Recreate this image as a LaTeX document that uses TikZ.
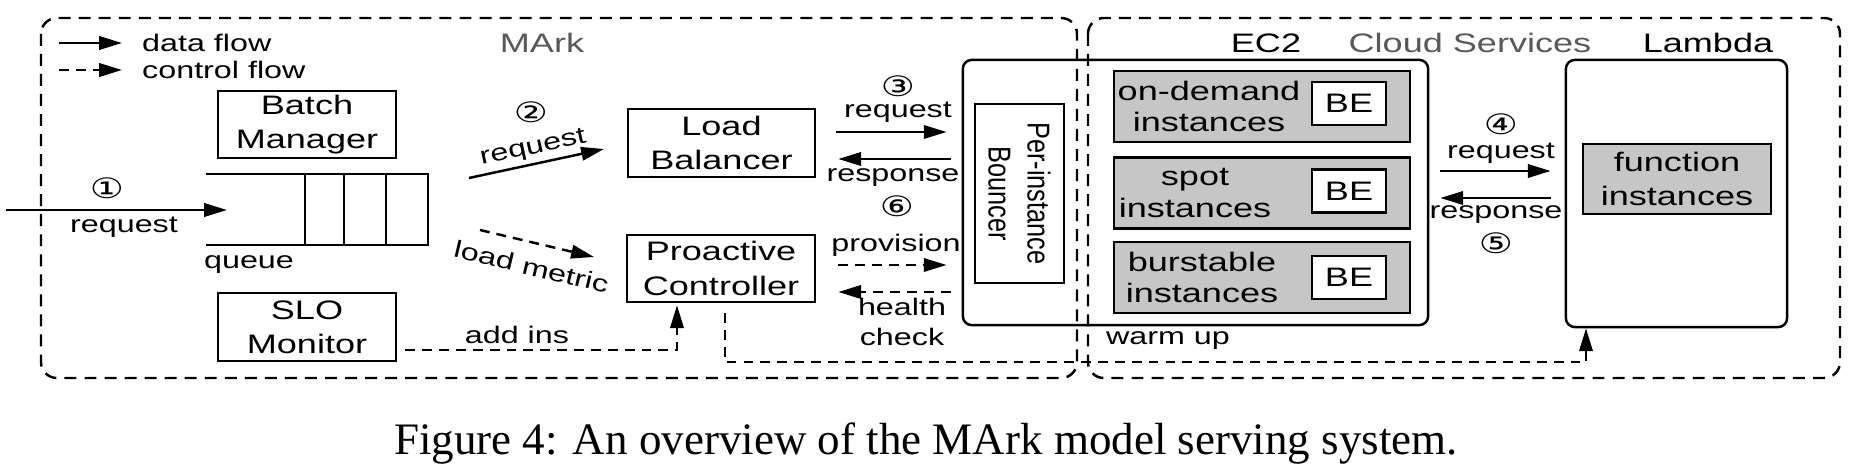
\documentclass[tikz,border=0pt]{standalone}
\usepackage{fontspec}
\setmainfont{Liberation Sans}[FakeStretch=1.35]
\newfontfamily\rotfont{Liberation Sans}[FakeStretch=0.8]
\newfontfamily\numfont{DejaVu Sans}[FakeStretch=1.35]
\newfontfamily\capfont{Liberation Serif}
\usetikzlibrary{arrows.meta,calc,positioning}

\newcommand{\circnum}[1]{{\numfont\fontsize{8}{8.5}\selectfont #1}}

\begin{document}
\begin{tikzpicture}[
  x=0.01cm, y=-0.01cm, line width=0.7pt,
  >={Triangle[length=6.5pt,width=3.8pt]},
  box/.style={rectangle, draw=black, align=center, inner sep=0pt, font=\fontsize{7.6}{9.7}\selectfont},
  graybox/.style={box, fill=gray!45},
  roundbox/.style={box, rounded corners=2.5pt},
  tag/.style={align=center, inner sep=0pt, font=\fontsize{6.8}{8.5}\selectfont},
  title/.style={inner sep=0pt, font=\fontsize{7.6}{9}\selectfont},
  ctrl/.style={dash pattern=on 2.8pt off 2pt},
  region/.style={draw=black, dash pattern=on 3.4pt off 2.3pt, rounded corners=4.5pt}
]
\useasboundingbox (0,0) rectangle (1868,476);

% instance host (bouncer + EC2) and lambda
\node[roundbox, minimum width=4.65cm, minimum height=2.65cm] (host) at (1195.5,192.5) {};
\node[roundbox, minimum width=2.21cm, minimum height=2.67cm] (lambda) at (1676.5,193.5) {};

% dashed regions
\draw[region] (41,18) rectangle (1077,378);
\draw[region] (1088,18) rectangle (1840,378);

% region titles
\node[title, text=black!65] (marktitle) at (542,43) {MArk};
\node[title] (ec2title) at (1266,43) {EC2};
\node[title, text=black!65] (cloudtitle) at (1470,43) {Cloud Services};
\node[title] (lambdatitle) at (1708,43) {Lambda};

% legend
\coordinate (lgd1s) at (59,43);
\coordinate (lgd1e) at (122,43);
\coordinate (lgd2s) at (59,70);
\coordinate (lgd2e) at (122,70);
\draw[->] (lgd1s) -- (lgd1e);
\draw[ctrl,->] (lgd2s) -- (lgd2e);
\node[tag, anchor=west] (lgddata) at (141,43) {data flow};
\node[tag, anchor=west] (lgdctrl) at (141,70) {control flow};

% MArk components
\node[box, minimum width=1.78cm, minimum height=0.67cm] (batch) at (307,124.5) {Batch\\Manager};
\node[box, minimum width=1.78cm, minimum height=0.68cm] (slo) at (307,327) {SLO\\Monitor};
\node[box, minimum width=1.87cm, minimum height=0.68cm] (lb) at (721.5,143) {Load\\Balancer};
\node[box, minimum width=1.88cm, minimum height=0.67cm] (pc) at (721,268.5) {Proactive\\Controller};

% queue
\draw (206,174) -- (429,174);
\draw (206,245) -- (429,245);
\foreach \x in {305,344,386,428} {
  \draw (\x,174) -- (\x,245);
}
\node[tag] (qlabel) at (249,265) {queue};
\coordinate (qin) at (227,210);

% incoming request
\coordinate (src) at (6,210);
\draw[->] (src) -- (qin);
\node[tag] (n1) at (107,188) {\circnum{①}};
\node[tag] (req1) at (124,227) {request};

% queue -> load balancer, load metric
\coordinate (q2s) at (469,178);
\coordinate (q2e) at (604,149);
\draw[->] (q2s) -- node[tag, sloped, above=0.4mm] (req2) {request} (q2e);
\node[tag] (n2) at (531,112) {\circnum{②}};
\coordinate (lms) at (480,230);
\coordinate (lme) at (594,257);
\draw[ctrl,->] (lms) -- node[tag, sloped, below=1.4mm] (lmlabel) {load metric} (lme);

% bouncer
\node[box, rotate=-90, minimum width=1.79cm, minimum height=0.89cm,
  font=\rotfont\fontsize{9}{11.1}\selectfont] (bouncer) at (1019.5,193.5) {Per-instance\\Bouncer};

% EC2 instances
\foreach \name/\y/\tx/\by/\txt in {ond/106.5/1209/103.5/{on-demand\\instances},
    spot/193/1195/191/{spot\\instances},
    burst/277.5/1202/277.5/{burstable\\instances}} {
  \node[graybox, minimum width=2.96cm, minimum height=0.71cm] (\name) at (1262,\y) {};
  \node[box, draw=none, font=\fontsize{7.6}{9}\selectfont] (\name-txt) at (\tx,\y) {\txt};
  \node[box, fill=white, minimum width=0.74cm, minimum height=0.43cm] (\name-be) at (1349,\by) {BE};
}

% lambda functions
\node[graybox, minimum width=1.88cm, minimum height=0.70cm] (func) at (1677,179) {function\\instances};

% load balancer <-> bouncer
\draw[->] ($(lb.east)+(20,-11)$) -- ($(host.west |- lb.east)+(-15,-11)$);
\draw[->] ($(host.west |- lb.east)+(-11,16)$) -- ($(lb.east)+(22,16)$);
\node[tag] (n3) at (898,86) {\circnum{③}};
\node[tag] (req3) at (898,112) {request};
\node[tag] (resp6) at (893,178) {response};
\node[tag] (n6) at (897,206) {\circnum{⑥}};

% controller <-> bouncer
\draw[ctrl,->] ($(pc.east)+(22,-3.5)$) -- ($(host.west |- pc.east)+(-15,-3.5)$);
\draw[ctrl,->] ($(host.west |- pc.east)+(-11,23.5)$) -- ($(pc.east)+(22,23.5)$);
\node[tag] (prov) at (896,245) {provision};
\node[tag] (health) at (902,322) {health\\check};

% EC2 <-> lambda
\draw[->] ($(host.east)+(11,-21.5)$) -- ($(lambda.west |- host.east)+(-14,-21.5)$);
\draw[->] ($(lambda.west |- host.east)+(-14,5.5)$) -- ($(host.east)+(11,5.5)$);
\node[tag] (n4) at (1501,124) {\circnum{④}};
\node[tag] (req4) at (1501,153) {request};
\node[tag] (resp5) at (1496,215) {response};
\node[tag] (n5) at (1496,243) {\circnum{⑤}};

% add ins, warm up
\draw[ctrl,->] ($(slo.east)+(8,23)$) -| ($(pc.south)+(-44,2)$);
\node[tag] (addins) at (517,335) {add ins};
\draw[ctrl,->] ($(pc.south)+(4,10)$) -- ++(0,49) -| ($(lambda.south)+(-90.5,0)$);
\node[tag] (warmup) at (1168,341) {warm up};

% caption
\node[anchor=base, inner sep=0pt, font=\capfont\fontsize{12.8}{15}\selectfont] (caption) at (926,455)
  {Figure 4: An overview of the MArk model serving system.};

\end{tikzpicture}
\end{document}
